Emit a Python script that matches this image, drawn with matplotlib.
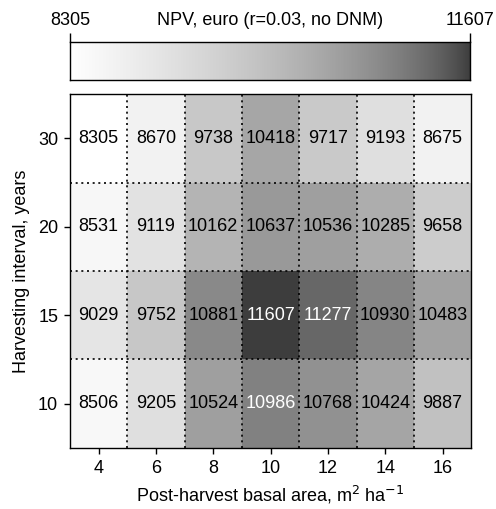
import numpy as np
import matplotlib
matplotlib.use('Agg')
import matplotlib.pyplot as plt
from matplotlib.colors import ListedColormap, Normalize

plt.rcParams['font.family'] = ['Liberation Sans', 'DejaVu Sans']

# basal area (columns) and harvesting interval (rows, bottom to top)
basal_area = [4, 6, 8, 10, 12, 14, 16]
interval = [10, 15, 20, 30]

npv_10 = [8506, 9205, 10524, 10986, 10768, 10424, 9887]
npv_15 = [9029, 9752, 10881, 11607, 11277, 10930, 10483]
npv_20 = [8531, 9119, 10162, 10637, 10536, 10285, 9658]
npv_30 = [8305, 8670, 9738, 10418, 9717, 9193, 8675]

npv = np.array([npv_10, npv_15, npv_20, npv_30])
vmin, vmax = npv.min(), npv.max()

# gamma-corrected grey ramp, dark for high values
gamma = 2.2
start, end = 0.24, 1.0
t = np.linspace(start ** gamma, end ** gamma, 256) ** (1 / gamma)
greys = ListedColormap(np.column_stack([t, t, t])[::-1])
norm = Normalize(vmin=vmin, vmax=vmax)

fig = plt.figure(figsize=(4.96, 5.09), dpi=100)
ax = fig.add_axes([0.141, 0.120, 0.809, 0.695])
cax = fig.add_axes([0.141, 0.843, 0.807, 0.075])

ax.pcolormesh(np.arange(len(basal_area) + 1), np.arange(len(interval) + 1),
              npv, cmap=greys, norm=norm)

for i in range(len(interval)):
    for j in range(len(basal_area)):
        v = npv[i, j]
        col = 'white' if norm(v) > 0.8 else 'black'
        ax.text(j + 0.5, i + 0.5, str(v), ha='center', va='center',
                fontsize=13, color=col)

# dotted cell borders
for x in range(1, len(basal_area)):
    ax.axvline(x, color='black', linestyle=(0, (1.2, 2.2)), linewidth=1.2)
for y in range(1, len(interval)):
    ax.axhline(y, color='black', linestyle=(0, (1.2, 2.2)), linewidth=1.2)

ax.set_xlim(0, len(basal_area))
ax.set_ylim(0, len(interval))
ax.set_xticks(np.arange(len(basal_area)) + 0.5)
ax.set_xticklabels(basal_area)
ax.set_yticks(np.arange(len(interval)) + 0.5)
ax.set_yticklabels(interval)
ax.tick_params(direction='out', length=4.5, width=1, labelsize=13, pad=4)
for s in ax.spines.values():
    s.set_linewidth(1)
ax.set_xlabel('Post-harvest basal area, m$^{2}$ ha$^{-1}$', fontsize=13, labelpad=5)
ax.set_ylabel('Harvesting interval, years', fontsize=13, labelpad=6)

# colour key on top
grad = np.linspace(vmin, vmax, 512).reshape(1, -1)
cax.imshow(grad, aspect='auto', cmap=greys, norm=norm,
           extent=[vmin, vmax, 0, 1])
cax.set_xlim(vmin, vmax)
cax.set_yticks([])
cax.xaxis.tick_top()
cax.set_xticks([vmin, vmax])
cax.set_xticklabels([str(vmin), str(vmax)])
cax.tick_params(axis='x', direction='out', length=6.5, width=1, labelsize=13, pad=3)
for s in cax.spines.values():
    s.set_linewidth(1)
fig.text(0.545, 0.96, 'NPV, euro (r=0.03, no DNM)', ha='center', va='center',
         fontsize=13)

fig.savefig('out.png', dpi=100)
